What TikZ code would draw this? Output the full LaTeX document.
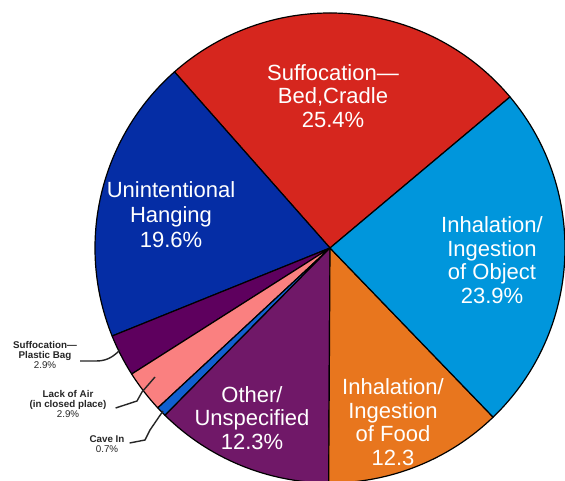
\documentclass[tikz,border=0pt]{standalone}
\usepackage{fontspec}
\setmainfont{Liberation Sans}
\usepackage{tikz}
\usetikzlibrary{positioning,calc}
\usepackage{xcolor}

\definecolor{bedred}{RGB}{214,38,30}
\definecolor{objblue}{RGB}{0,150,220}
\definecolor{foodorange}{RGB}{232,118,30}
\definecolor{otherpurple}{RGB}{112,24,104}
\definecolor{caveblue}{RGB}{16,96,208}
\definecolor{airpink}{RGB}{250,128,128}
\definecolor{bagpurple}{RGB}{94,0,94}
\definecolor{hangblue}{RGB}{5,45,165}

\tikzset{
  biglabel/.style={text=white, align=center, font=\fontsize{22}{23.5}\selectfont},
  smalllabel/.style={text=black!85, align=center, inner sep=1pt, font=\fontsize{9.8}{10}\selectfont\bfseries},
  leader/.style={draw=black!85, line width=1.4pt}
}

\begin{document}
\begin{tikzpicture}[x=1pt, y=1pt]

  % Define radius
  \def\r{235}

  \useasboundingbox (0,0) rectangle (565,480);
  \clip (0,0) rectangle (565,480);
  \fill[white] (0,0) rectangle (565,480);

  % Centre of the pie
  \coordinate (orig) at (330,232);

  % Slices
  \foreach \a/\b/\col in {40/131.44/bedred, 131.44/202/hangblue, 202/212.44/bagpurple,
                          212.44/222.88/airpink, 222.88/225.4/caveblue, 225.4/269.68/otherpurple,
                          269.68/313.96/foodorange, 313.96/400/objblue}
    \filldraw[fill=\col, draw=black, line width=1.2pt, line join=round]
      (orig) -- ++(\a:\r) arc[start angle=\a, end angle=\b, radius=\r] -- cycle;

  % Labels inside the pie
  \node[biglabel] (bed) at (333,384) {Suffocation—\\Bed,Cradle\\25.4\%};
  \node[biglabel] (object) at (492,220) {Inhalation/\\Ingestion\\of Object\\23.9\%};
  \node[biglabel] (food) at (393,58) {Inhalation/\\Ingestion\\of Food\\12.3};
  \node[biglabel] (other) at (252,62) {Other/\\Unspecified\\12.3\%};
  \node[biglabel, font=\fontsize{22}{25}\selectfont] (hang) at (171,265) {Unintentional\\Hanging\\19.6\%};

  % Labels outside the pie
  \node[smalllabel] (bag) at (45,125) {Suffocation—\\Plastic Bag\\{\mdseries 2.9\%}};
  \node[smalllabel] (air) at (68,76) {Lack of Air\\(in closed place)\\{\mdseries 2.9\%}};
  \node[smalllabel] (cave) at (107,36) {Cave In\\{\mdseries 0.7\%}};

  % Leader lines
  \coordinate (bagtip) at (120,130);
  \coordinate (airtip) at (155,103);
  \coordinate (cavetip) at (163,69);
  \draw[leader] ([shift={(2,-6)}]bag.east) -- ++(16,0) to[out=0, in=-135] (bagtip);
  \draw[leader] ([shift={(8,-4)}]air.east) -- (137,79) -- (142,88) -- (airtip);
  \draw[leader] ([shift={(4,1)}]cave.east) -- (145,40) -- (150,50) -- (cavetip);

\end{tikzpicture}
\end{document}
